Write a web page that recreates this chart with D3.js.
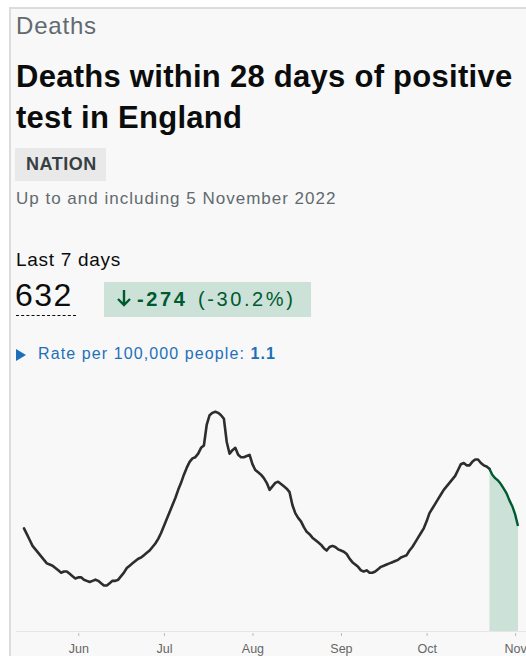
<!DOCTYPE html>
<html lang="en">
<head>
<meta charset="UTF-8">
<title>Deaths</title>
<script src="https://cdn.jsdelivr.net/npm/d3@7"></script>
<style>
    html, body { margin:0; padding:0; background:#fff; overflow:hidden; width:526px; height:656px; }
    body { font-family: "Liberation Sans", Arial, sans-serif; color:#0b0c0c; }
    .card {
        position:absolute; left:9px; top:7px; width:540px; height:700px;
        background:#f8f8f8; border-top:2px solid #dcdcdc; border-left:2px solid #dcdcdc;
    }
    .t { position:absolute; white-space:nowrap; }
    .kicker { left:16px; top:12px; font-size:24px; color:#626a6e; letter-spacing:0.8px; }
    .title { left:16px; top:56px; font-size:31px; font-weight:bold; line-height:41px; letter-spacing:0.27px; }
    .tag { left:15px; top:148px; width:91px; height:33px; background:#e9e9e9; }
    .tag span { position:absolute; left:11px; top:6px; font-size:18px; font-weight:bold; color:#383f43; letter-spacing:0.5px; }
    .date { left:16px; top:189px; font-size:17px; color:#626a6e; letter-spacing:1px; }
    .last { left:16px; top:249px; font-size:19px; letter-spacing:0.7px; }
    .num { left:15px; top:277px; font-size:32px; letter-spacing:1.5px; }
    .dash { left:16px; top:315px; width:60px; border-top:1px dashed #0b0c0c; }
    .chg { left:104px; top:282px; width:207px; height:35px; background:#cce2d8; }
    .chg span { position:absolute; top:6px; font-size:20px; color:#005a30; letter-spacing:2.6px; }
    .chg svg { position:absolute; left:116px; top:289px; }
    .rate { left:38px; top:345px; font-size:16px; color:#1d70b8; letter-spacing:1.1px; }
    .tri { left:16px; top:349px; width:0; height:0; border-top:6px solid transparent; border-bottom:6px solid transparent; border-left:10px solid #1d70b8; }
</style>
</head>
<body>
<div class="card"></div>
<div class="t kicker">Deaths</div>
<div class="t title">Deaths within 28 days of positive<br>test in England</div>
<div class="t tag"><span>NATION</span></div>
<div class="t date">Up to and including 5 November 2022</div>
<div class="t last">Last 7 days</div>
<div class="t num">632</div>
<div class="t dash"></div>
<div class="t chg">
    <span style="left:33px"><b>-274</b></span>
    <span style="left:94px">(-30.2%)</span>
</div>
<svg class="t" style="left:116px;top:289px" width="16" height="18">
    <path d="M8,1V16M2,10L8,16L14,10" fill="none" stroke="#005a30" stroke-width="2.4"/>
</svg>
<div class="t tri"></div>
<div class="t rate">Rate per 100,000 people: <b>1.1</b></div>
<svg id="chart" width="526" height="656" style="position:absolute;left:0;top:0"></svg>
<script>
// daily deaths (7-day average), 13 May 2022 .. 2 Nov 2022
var startDate = "2022-05-13";
var deaths = [
    88, 83, 78, 73, 70, 67, 64, 61, 58, 57,
    56, 54, 52, 50, 51, 51, 49, 47, 45, 46,
    46, 44, 43, 42, 43, 44, 43, 41, 39, 39,
    41, 43, 43, 44, 47, 50, 54, 56, 58, 60,
    62, 63, 65, 67, 69, 72, 75, 79, 84, 90,
    96, 102, 108, 114, 121, 127, 134, 140, 145, 148,
    149, 152, 157, 159, 177, 185, 187, 188, 187, 185,
    182, 162, 152, 155, 157, 151, 149, 149, 150, 151,
    143, 138, 136, 134, 131, 127, 121, 124, 127, 128,
    126, 124, 122, 119, 108, 101, 97, 94, 89, 85,
    83, 80, 78, 76, 74, 71, 69, 72, 73, 72,
    70, 69, 68, 66, 62, 59, 57, 55, 52, 51,
    52, 50, 50, 51, 53, 55, 56, 57, 58, 59,
    60, 61, 63, 64, 65, 69, 72, 76, 80, 84,
    88, 94, 101, 105, 109, 113, 117, 121, 124, 127,
    130, 133, 138, 143, 144, 142, 142, 145, 147, 147,
    144, 142, 141, 139, 134, 131, 129, 126, 122, 118,
    112, 107, 100, 90
];
var highlightStart = "2022-10-23";
var tickMonths = ["2022-06-01", "2022-07-01", "2022-08-01", "2022-09-01", "2022-10-01", "2022-11-01"];

var parse = d3.timeParse("%Y-%m-%d");
var t0 = parse(startDate);
var data = deaths.map(function(v, i) { return { date: d3.timeDay.offset(t0, i), value: v }; });
var hl = parse(highlightStart);
var lastDate = data[data.length - 1].date;

var svg = d3.select("#chart");

var x = d3.scaleTime()
    .domain([data[0].date, lastDate])
    .range([24, 518]);
var y = d3.scaleLinear()
    .domain([0, 200])
    .range([631, 397.7]);

// shaded block for the most recent days, under the line
var hlData = data.filter(function(d) { return d.date >= hl; });
svg.append("path")
    .datum(hlData)
    .attr("fill", "#cce2d8")
    .attr("d", d3.area()
        .x(function(d) { return x(d.date); })
        .y0(y(0))
        .y1(function(d) { return y(d.value); }));

// axis
var axis = svg.append("g")
    .attr("transform", "translate(0," + y(0) + ")")
    .call(d3.axisBottom(x)
        .tickValues(tickMonths.map(parse))
        .tickFormat(d3.timeFormat("%b"))
        .tickSize(4)
        .tickPadding(9));
axis.select(".domain").attr("stroke", "#e6e6e6").attr("d", "M16,0.5H526");
axis.selectAll(".tick line").attr("stroke", "#bbb").attr("transform", "translate(0,2)").attr("y2", 3);
axis.selectAll(".tick text")
    .attr("fill", "#666")
    .style("font-family", "'Liberation Sans', Arial, sans-serif")
    .style("font-size", "12.5px");

var line = d3.line()
    .x(function(d) { return x(d.date); })
    .y(function(d) { return y(d.value); });

svg.append("path")
    .datum(data.filter(function(d) { return d.date <= hl; }))
    .attr("fill", "none")
    .attr("stroke", "#2b2d2e")
    .attr("stroke-width", 2.6)
    .attr("stroke-linejoin", "round")
    .attr("stroke-linecap", "round")
    .attr("d", line);

svg.append("path")
    .datum(hlData)
    .attr("fill", "none")
    .attr("stroke", "#005a30")
    .attr("stroke-width", 2.4)
    .attr("stroke-linejoin", "round")
    .attr("d", line);
</script>
</body>
</html>
